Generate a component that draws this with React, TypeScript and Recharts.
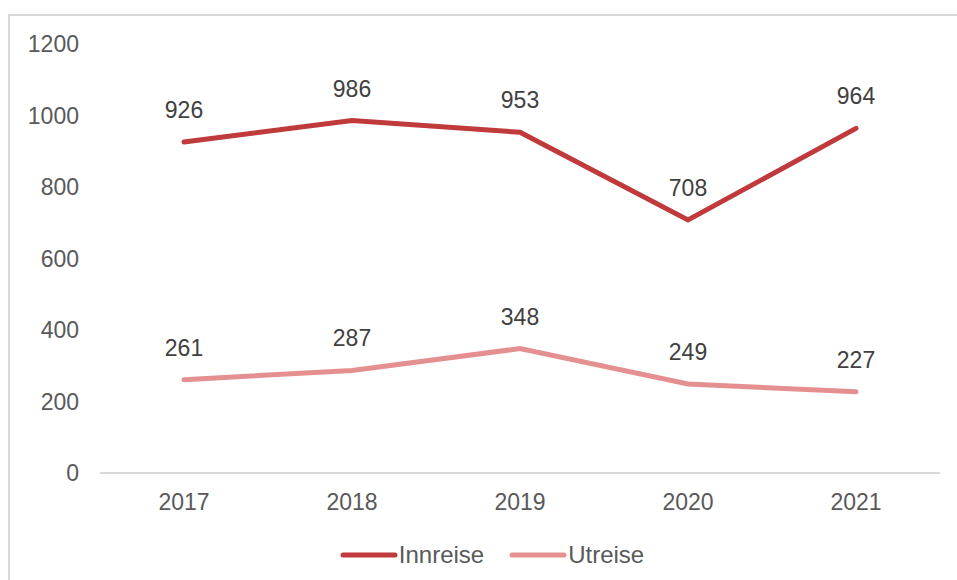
import React from "react";
import { LineChart, Line, XAxis, YAxis, LabelList, Legend } from "recharts";

const years = ["2017", "2018", "2019", "2020", "2021"];
const innreise = [926, 986, 953, 708, 964];
const utreise = [261, 287, 348, 249, 227];
const yTicks = [0, 200, 400, 600, 800, 1000, 1200];

const data = years.map((y, i) => ({ year: y, Innreise: innreise[i], Utreise: utreise[i] }));

const FONT = "'Liberation Sans', Arial, sans-serif";
const C1 = "#C0393B";
const C2 = "#E59090";

const LegendContent = () => {
  const items = [
    { name: "Innreise", color: C1 },
    { name: "Utreise", color: C2 },
  ];
  return (
    <div style={{ display: "flex", justifyContent: "center", alignItems: "center", fontFamily: FONT, fontSize: 24, color: "#595959", marginLeft: 34, height: 26 }}>
      {items.map((it, i) => (
        <div key={it.name} style={{ display: "flex", alignItems: "center", marginLeft: i === 0 ? 0 : 25 }}>
          <svg width={58} height={10} style={{ display: "block" }}>
            <line x1={3} y1={5} x2={55} y2={5} stroke={it.color} strokeWidth={5} strokeLinecap="round" />
          </svg>
          <span style={{ marginLeft: 1, lineHeight: "26px" }}>{it.name}</span>
        </div>
      ))}
    </div>
  );
};

export default function App() {
  return (
    <div
      style={{
        position: "absolute",
        left: 8,
        top: 14,
        width: 949,
        height: 566,
        borderLeft: "2px solid #d9d9d9",
        borderTop: "2px solid #d9d9d9",
        boxSizing: "border-box",
        background: "#fff",
        overflow: "hidden",
      }}
    >
      <LineChart
        width={947}
        height={564}
        data={data}
        margin={{ top: 28, right: 17, bottom: 0, left: 0 }}
        style={{ fontFamily: FONT }}
      >
        <XAxis
          dataKey="year"
          axisLine={{ stroke: "#d9d9d9", strokeWidth: 2 }}
          tickLine={false}
          tickSize={0}
          tickMargin={21}
          height={64}
          padding={{ left: 84, right: 84 }}
          tick={{ fill: "#595959", fontSize: 23, fontFamily: FONT }}
        />
        <YAxis
          domain={[0, 1200]}
          ticks={yTicks}
          axisLine={false}
          tickLine={false}
          tickSize={0}
          tickMargin={21}
          width={90}
          tick={{ fill: "#595959", fontSize: 23, fontFamily: FONT }}
        />
        <Legend
          verticalAlign="bottom"
          height={43}
          wrapperStyle={{ top: 526, bottom: "auto" }}
          content={<LegendContent />}
        />
        <Line
          type="linear"
          dataKey="Innreise"
          stroke={C1}
          strokeWidth={5}
          strokeLinecap="round"
          dot={false}
          activeDot={false}
          isAnimationActive={false}
        >
          <LabelList dataKey="Innreise" position="top" offset={24} fill="#404040" fontSize={23} fontFamily={FONT} />
        </Line>
        <Line
          type="linear"
          dataKey="Utreise"
          stroke={C2}
          strokeWidth={5}
          strokeLinecap="round"
          dot={false}
          activeDot={false}
          isAnimationActive={false}
        >
          <LabelList dataKey="Utreise" position="top" offset={24} fill="#404040" fontSize={23} fontFamily={FONT} />
        </Line>
      </LineChart>
    </div>
  );
}
